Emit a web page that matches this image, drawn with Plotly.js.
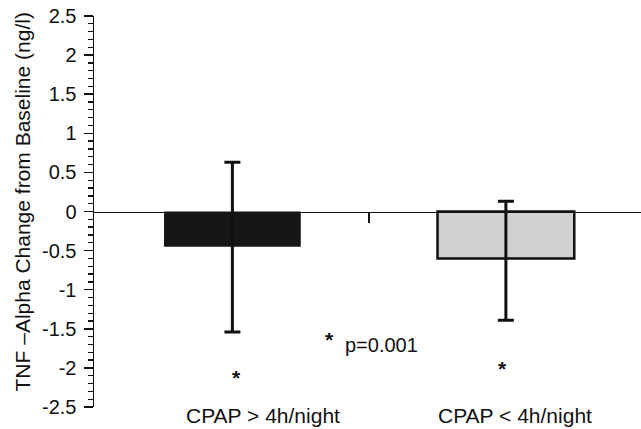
<!DOCTYPE html>
<html>
<head>
<meta charset="utf-8">
<script src="https://cdn.plot.ly/plotly-3.0.1.min.js"></script>
<style>html,body{margin:0;padding:0;background:#fff;}#chart{width:641px;height:429px;}</style>
</head>
<body>
<div id="chart"></div>
<script>
// ---- data ----
var categories = ["CPAP > 4h/night", "CPAP < 4h/night"];
var meanChange = [-0.45, -0.60];
var errPlus = [1.08, 0.73];
var errMinus = [1.09, 0.79];
var barColors = ["#161616", "#d0d0d0"];
var yTickVals = [-2.5, -2, -1.5, -1, -0.5, 0, 0.5, 1, 1.5, 2, 2.5];
var yTickText = ["-2.5", "-2", "-1.5", "-1", "-0.5", "0", "0.5", "1", "1.5", "2", "2.5"];
var starY = [-2.125, -2.013];      // significance asterisks below each group
var pNote = "p=0.001";
var pStarY = -1.64;
var pTextY = -1.705;

var xIdx = categories.map(function (c, i) { return i; });
var FONT = "Liberation Sans, Arial, Helvetica, sans-serif";
var INK = "#111111";

function esc(s) { return s.replace(/</g, "&lt;").replace(/>/g, "&gt;"); }

var trace = {
  type: "bar",
  x: xIdx,
  y: meanChange,
  width: 0.5,
  marker: {
    color: barColors,
    line: { color: [barColors[0], INK], width: [0, 2.5] }
  },
  error_y: {
    type: "data",
    symmetric: false,
    array: errPlus,
    arrayminus: errMinus,
    color: INK,
    thickness: 3,
    width: 8
  },
  hoverinfo: "skip"
};

var annotations = [];
// category labels below the plot
var labelX = [0.1126, 1.0347];
categories.forEach(function (c, i) {
  annotations.push({
    xref: "x", yref: "paper", x: labelX[i], y: -0.023,
    xanchor: "center", yanchor: "middle", showarrow: false,
    text: esc(c), font: { family: FONT, size: 21, color: INK }
  });
});
// asterisks
var starX = [0.015, 0.988];
starY.forEach(function (sy, i) {
  annotations.push({
    xref: "x", yref: "y", x: starX[i], y: sy,
    xanchor: "center", yanchor: "middle", showarrow: false,
    text: "<b>*</b>", font: { family: FONT, size: 21, color: INK }
  });
});
annotations.push({
  xref: "x", yref: "y", x: 0.356, y: pStarY,
  xanchor: "center", yanchor: "middle", showarrow: false,
  text: "<b>*</b>", font: { family: FONT, size: 21, color: INK }
});
annotations.push({
  xref: "x", yref: "y", x: 0.403, y: pTextY,
  xanchor: "left", yanchor: "middle", showarrow: false,
  text: pNote, font: { family: FONT, size: 20, color: INK }
});
// y-axis title
annotations.push({
  xref: "paper", yref: "paper", x: -0.131, y: 0.524,
  xanchor: "center", yanchor: "middle", showarrow: false, textangle: -90,
  text: "TNF \u2013Alpha Change from Baseline (ng/l)",
  font: { family: FONT, size: 21, color: INK }
});

var layout = {
  width: 641, height: 429,
  margin: { l: 94, r: 0, t: 16, b: 22, pad: 0 },
  paper_bgcolor: "#fff", plot_bgcolor: "#fff",
  showlegend: false,
  font: { family: FONT, color: INK },
  xaxis: {
    range: [-0.506, 1.494],
    anchor: "free", position: 0.5,
    showline: true, linecolor: INK, linewidth: 1.5,
    showgrid: false, zeroline: false,
    tickmode: "array", tickvals: [0.5], ticks: "outside",
    ticklen: 10, tickwidth: 1.5, tickcolor: INK,
    showticklabels: false, fixedrange: true
  },
  yaxis: {
    range: [-2.5, 2.5],
    showline: true, linecolor: INK, linewidth: 1.5,
    showgrid: false, zeroline: false,
    tickmode: "array", tickvals: yTickVals, ticktext: yTickText,
    ticks: "outside", ticklen: 9, tickwidth: 1.5, tickcolor: INK,
    tickfont: { family: FONT, size: 20, color: INK },
    ticklabelstandoff: 3,
    minor: { tickmode: "linear", tick0: 0, dtick: 0.1, ticks: "outside", ticklen: 4.5, tickwidth: 1.3, tickcolor: INK },
    fixedrange: true
  },
  annotations: annotations
};

Plotly.newPlot("chart", [trace], layout, { staticPlot: true, displayModeBar: false });
</script>
</body>
</html>
